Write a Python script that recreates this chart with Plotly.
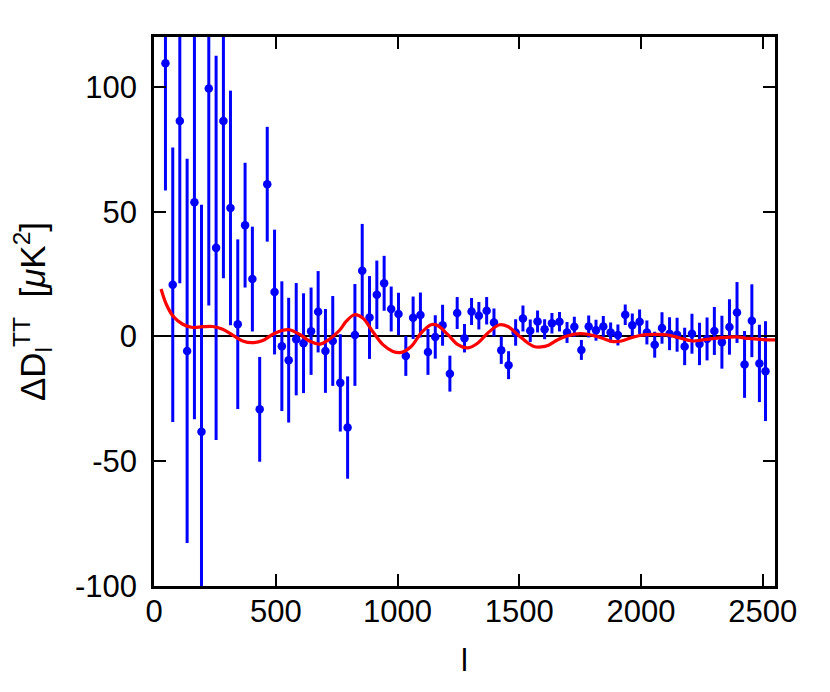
import plotly.graph_objects as go

# binned residuals
ell = [47, 77, 106, 136, 166, 195, 225, 255, 285, 314, 344, 374, 404, 434, 465, 495,
       525, 553, 584, 614, 645, 674, 704, 734, 765, 795, 825, 855, 885, 915, 945, 974,
       1004, 1034, 1064, 1094, 1125, 1155, 1185, 1215, 1245, 1275, 1304, 1334, 1366, 1396,
       1426, 1456, 1485, 1515, 1545, 1575, 1604, 1634, 1665, 1696, 1726, 1755, 1785, 1815,
       1845, 1875, 1905, 1935, 1964, 1994, 2024, 2056, 2086, 2117, 2148, 2179, 2209, 2240,
       2271, 2301, 2332, 2363, 2394, 2425, 2455, 2486, 2511]
dD = [109.5, 20.7, 86.3, -5.8, 53.8, -38.2, 99.4, 35.5, 86.3, 51.5, 4.9, 44.6, 23.0, -29.2,
      61.0, 17.8, -3.9, -9.5, -1.1, -2.7, 2.1, 9.9, -5.8, -1.8, -18.6, -36.5, 0.6, 26.3,
      7.6, 16.7, 21.3, 11.0, 9.0, -7.8, 7.5, 8.6, -6.2, -0.2, 4.5, -14.9, 9.4, -0.7, 10.0,
      8.3, 10.3, 5.6, -5.5, -11.5, 1.6, 7.2, 2.3, 6.0, 2.9, 5.3, 5.9, 1.6, 3.9, -5.4, 4.0,
      2.5, 4.0, 1.6, 0.6, 8.7, 4.5, 5.9, 1.6, -3.3, 3.4, 1.1, 0.7, -4.0, 1.1, -3.0, -1.0,
      2.2, -2.3, 3.8, 9.6, -11.2, 6.3, -10.8, -13.9]
err = [51, 55, 65, 77, 87, 91, 87, 77, 63, 47, 34, 25, 21, 21, 23, 25, 26, 25, 22.5, 20,
       17.5, 16.3, 16.8, 18, 19.5, 20.5, 20.4, 18.8, 16.6, 13.7, 11, 9, 8.5, 8, 8.5, 9, 9.2,
       8.7, 8.2, 7.2, 6.4, 5.7, 5.4, 5.5, 5.5, 5.6, 5.5, 5.6, 5.3, 5.2, 4.5, 4.4, 4.0, 4.1,
       3.9, 4.2, 4.0, 4.0, 4.4, 4.2, 4.2, 4.0, 4.2, 4.1, 4.7, 4.9, 4.8, 5.2, 6.3, 6.6, 6.8,
       7.5, 8.0, 8.5, 8.6, 9.6, 10.6, 11.1, 12.2, 13.4, 14.6, 15.5, 20]

# model difference curve
ell_model = [29, 50, 77, 118, 159, 200, 241, 282, 323, 364, 405, 447, 488, 529, 556, 597,
             638, 680, 720, 762, 789, 823, 857, 898, 940, 981, 1015, 1056, 1097, 1138, 1166,
             1207, 1248, 1289, 1330, 1371, 1419, 1453, 1494, 1535, 1560, 1590, 1620, 1660,
             1700, 1750, 1800, 1850, 1880, 1920, 1960, 2000, 2060, 2110, 2160, 2210, 2260,
             2330, 2390, 2440, 2490, 2550]
dD_model = [19, 13, 8.3, 4.9, 3.6, 3.9, 4.0, 2.9, 0.5, -1.8, -2.5, -1.6, 0.9, 2.5, 2.7, 0.9,
            -1.8, -3.1, -1.1, 2.5, 6.0, 8.7, 7.4, 2.0, -3.3, -6.0, -6.4, -4.0, 1.4, 4.7, 4.3,
            0.7, -3.3, -4.6, -2.6, 1.4, 4.7, 4.0, 0.7, -2.6, -4.0, -4.2, -3.5, -1.2,
            0.3, 1.1, 0.5, -1.0, -2.0, -1.8, -0.5, 0.5, 0.8, 0.6, -0.6, -1.8, -1.3,
            -0.5, -0.2, -0.8, -1.2, -1.4]

x_ticks = [0, 500, 1000, 1500, 2000, 2500]
y_ticks = [-100, -50, 0, 50, 100]
y_ticklabels = ["-100", "-50", "0", "50", "100"]

font = "Liberation Sans, Arial, Helvetica, sans-serif"

fig = go.Figure()
fig.add_trace(go.Scatter(x=ell, y=dD, mode="markers",
                         marker=dict(color="#0000ff", size=8.5),
                         error_y=dict(type="data", array=err, width=0, thickness=3, color="#0000ff")))
fig.add_trace(go.Scatter(x=ell_model, y=dD_model, mode="lines",
                         line=dict(color="#ff0000", width=3.2, shape="spline", smoothing=1.0)))

axis_style = dict(showline=True, linecolor="black", linewidth=2.5, mirror="ticks",
                  ticks="inside", ticklen=12, tickwidth=2, tickcolor="black",
                  showgrid=False, tickfont=dict(size=31, color="black"))

fig.update_xaxes(range=[0, 2550], tickvals=x_ticks, ticklabelstandoff=-4,
                 zeroline=False, title=dict(text="l", font=dict(size=31), standoff=22),
                 **axis_style)
fig.update_yaxes(range=[-100, 120], tickvals=y_ticks, ticktext=y_ticklabels,
                 ticklabelstandoff=8,
                 zeroline=True, zerolinecolor="black", zerolinewidth=2,
                 title=dict(text="ΔD<sub>l</sub><sup>TT</sup>  [<i>μ</i>K<sup>2</sup>]",
                            font=dict(size=35), standoff=20),
                 **axis_style)

# the page body adds an 8 px offset, so margins are shifted by that amount
fig.update_layout(width=830, height=692, showlegend=False,
                  plot_bgcolor="white", paper_bgcolor="white",
                  font=dict(family=font, color="black"),
                  margin=dict(l=146, r=63, t=29, b=114, autoexpand=False))

fig.write_html("out.html")
